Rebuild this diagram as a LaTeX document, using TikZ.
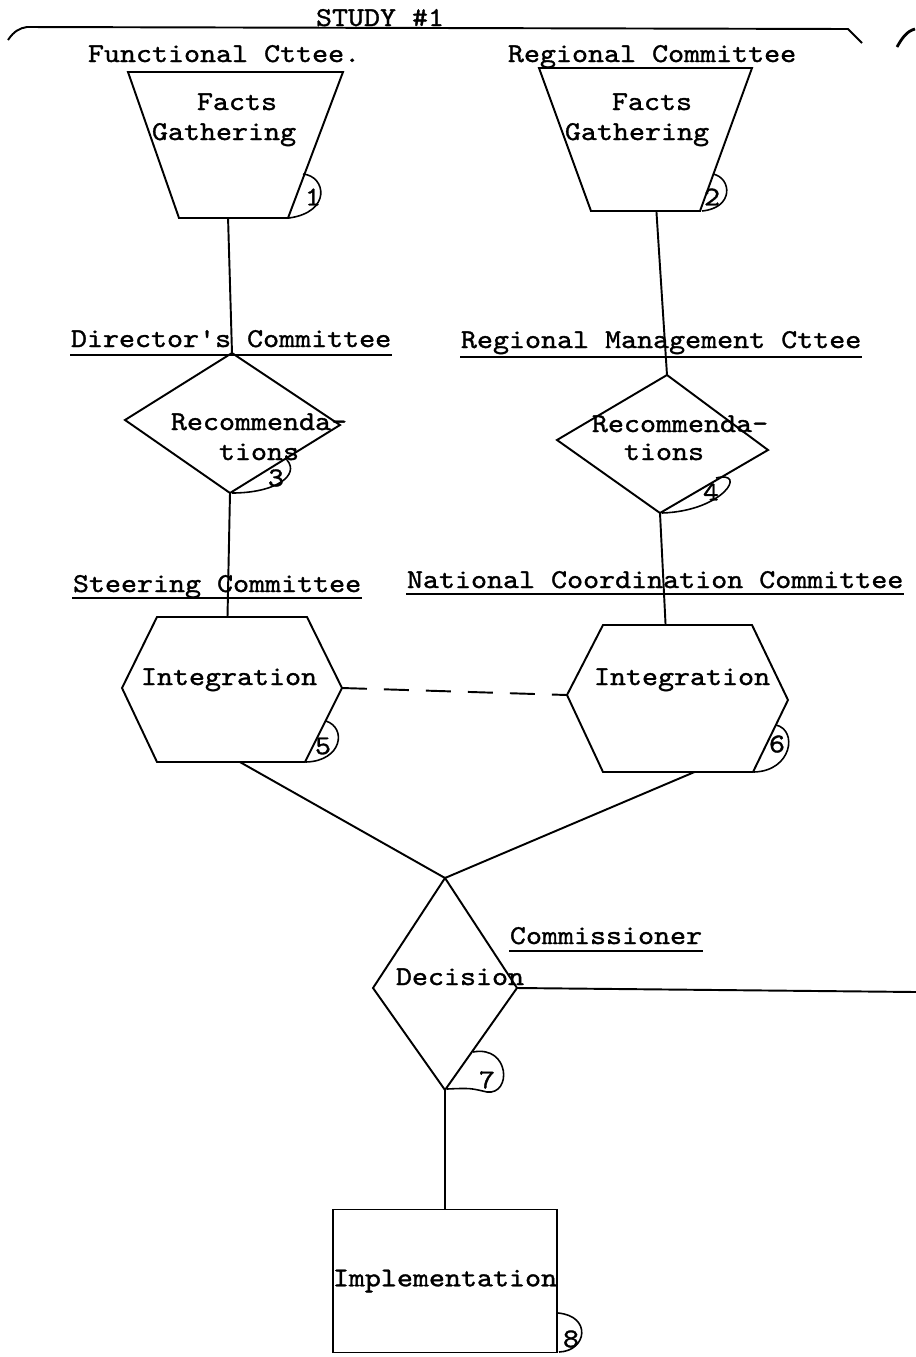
\documentclass[tikz,border=0pt]{standalone}
\usepackage{fontspec}
\setmonofont{lmmono10-regular.otf}[FakeStretch=1.12,FakeBold=1.2]
\usetikzlibrary{calc,positioning}
\newcommand{\typew}{\ttfamily\fontsize{15.5}{18}\selectfont}

\begin{document}
\begin{tikzpicture}[x=0.02cm,y=-0.02cm,line width=1.1pt]
\tikzstyle{txt}=[inner sep=0pt,anchor=base west,font=\typew]
\tikzstyle{num}=[inner sep=0pt,font=\typew]
\tikzstyle{uline}=[line width=0.7pt]
\tikzstyle{link}=[-,line width=1.1pt]
\tikzstyle{loop}=[line width=0.9pt]

\useasboundingbox (0,0) rectangle (916,1357);

% heading
\node[txt] (study) at (315,26) {STUDY \#1};
\draw (8,40) .. controls (14,31) and (20,28) .. (27,27) -- (848,29) -- (862,43);
\draw[line width=1.6pt] (897,47) .. controls (902,38) and (907,31) .. (915,29);

\node[txt] (fc) at (87,62) {Functional Cttee.};
\node[txt] (rc) at (507,62) {Regional Committee};

% facts gathering
\coordinate (fg1a) at (128,72);
\coordinate (fg1b) at (343,72);
\coordinate (fg1c) at (288,218);
\coordinate (fg1d) at (179,218);
\draw (fg1a) -- (fg1b) -- (fg1c) -- (fg1d) -- cycle;
\node[txt] (facts1) at (196,110) {Facts};
\node[txt] (gath1) at (151,140) {Gathering};

\coordinate (fg2a) at (539,68);
\coordinate (fg2b) at (752,68);
\coordinate (fg2c) at (700,211);
\coordinate (fg2d) at (591,211);
\draw (fg2a) -- (fg2b) -- (fg2c) -- (fg2d) -- cycle;
\node[txt] (facts2) at (611,110) {Facts};
\node[txt] (gath2) at (564,140) {Gathering};

% recommendations
\node[txt] (dc) at (70,347) {Director's Committee};
\draw[uline] ($(dc.base west)+(0,8)$) -- ($(dc.base east)+(0,8)$);
\node[txt] (rmc) at (460,348) {Regional Management Cttee};
\draw[uline] ($(rmc.base west)+(0,9)$) -- ($(rmc.base east)+(0,9)$);

\coordinate (rec1n) at (232,353);
\coordinate (rec1e) at (340,425);
\coordinate (rec1s) at (230,493);
\coordinate (rec1w) at (125,420);
\draw (rec1n) -- (rec1e) -- (rec1s) -- (rec1w) -- cycle;
\node[txt] (rec1a) at (170,430) {Recommenda-};
\node[txt] (rec1b) at (218,460) {tions};

\coordinate (rec2n) at (667,375);
\coordinate (rec2e) at (768,450);
\coordinate (rec2s) at (660,513);
\coordinate (rec2w) at (557,440);
\draw (rec2n) -- (rec2e) -- (rec2s) -- (rec2w) -- cycle;
\node[txt] (rec2a) at (591,432) {Recommenda-};
\node[txt] (rec2b) at (623,460) {tions};

% integration
\node[txt] (sc) at (72,592) {Steering Committee};
\draw[uline] ($(sc.base west)+(0,6)$) -- ($(sc.base east)+(0,6)$);
\node[txt] (ncc) at (406,588) {National Coordination Committee};
\draw[uline] ($(ncc.base west)+(0,6)$) -- ($(ncc.base east)+(0,6)$);

\coordinate (int1w) at (122,688);
\coordinate (int1nw) at (157,617);
\coordinate (int1ne) at (307,617);
\coordinate (int1e) at (342,688);
\coordinate (int1se) at (305,762);
\coordinate (int1sw) at (157,762);
\draw (int1w) -- (int1nw) -- (int1ne) -- (int1e) -- (int1se) -- (int1sw) -- cycle;
\node[txt] (int1) at (140,685) {Integration};

\coordinate (int2w) at (567,695);
\coordinate (int2nw) at (603,625);
\coordinate (int2ne) at (752,625);
\coordinate (int2e) at (788,700);
\coordinate (int2se) at (753,772);
\coordinate (int2sw) at (603,772);
\draw (int2w) -- (int2nw) -- (int2ne) -- (int2e) -- (int2se) -- (int2sw) -- cycle;
\node[txt] (int2) at (593,685) {Integration};

% decision
\node[txt] (com) at (509,944) {Commissioner};
\draw[uline] ($(com.base west)+(0,7)$) -- ($(com.base east)+(0,7)$);

\coordinate (decn) at (445,878);
\coordinate (dece) at (517,988);
\coordinate (decs) at (445,1090);
\coordinate (decw) at (373,988);
\draw (decn) -- (dece) -- (decs) -- (decw) -- cycle;
\node[txt] (dec) at (395,985) {Decision};
\coordinate (comend) at (916,992);

\node[draw,inner sep=0pt,minimum width=4.48cm,minimum height=2.86cm,font=\typew] (impl) at (445,1281) {Implementation};

% connectors
\draw[link] ($(fg1d)!0.45!(fg1c)$) -- (rec1n);
\draw[link] ($(fg2d)!0.6!(fg2c)$) -- (rec2n);
\draw[link] (rec1s) -- ($(int1nw)!0.47!(int1ne)$);
\draw[link] (rec2s) -- ($(int2nw)!0.42!(int2ne)$);
\draw[link,dash pattern=on 0.5cm off 0.34cm] (int1e) -- (int2w);
\draw[link] ($(int1sw)!0.56!(int1se)$) -- (decn);
\draw[link] ($(int2sw)!0.61!(int2se)$) -- (decn);
\draw[link] (dece) -- (comend);
\draw[link] (decs) -- (impl.north);

% step numbers
\node[num] (n1) at (313,197) {1};
\draw[loop] (303,174) .. controls (326,176) and (332,212) .. (289,218);
\node[num] (n2) at (712,197) {2};
\draw[loop] (713,174) .. controls (732,178) and (734,208) .. (702,211);
\node[num] (n3) at (276,478) {3};
\draw[loop] (287,460) .. controls (300,475) and (276,493) .. (232,493);
\node[num] (n4) at (711,492) {4};
\draw[loop] (716,478) .. controls (748,470) and (724,511) .. (662,513);
\node[num] (n5) at (323,746) {5};
\draw[loop] (326,721) .. controls (347,728) and (342,761) .. (306,762);
\node[num] (n6) at (777,744) {6};
\draw[loop] (776,725) .. controls (798,730) and (792,771) .. (754,772);
\node[num] (n7) at (487,1080) {7};
\draw[loop] (473,1052) .. controls (510,1045) and (512,1095) .. (487,1092) .. controls (470,1088) .. (447,1089);
\node[num] (n8) at (571,1339) {8};
\draw[loop] (558,1313) .. controls (592,1316) and (587,1351) .. (559,1352);
\end{tikzpicture}
\end{document}
